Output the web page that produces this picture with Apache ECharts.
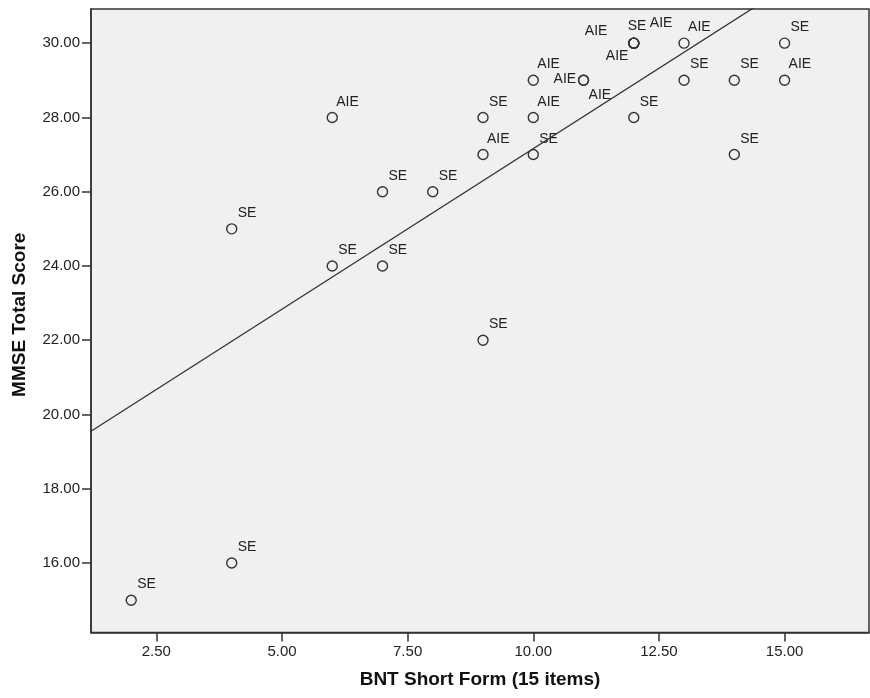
<!DOCTYPE html>
<html>
<head>
<meta charset="utf-8">
<script src="https://cdn.jsdelivr.net/npm/echarts@6/dist/echarts.min.js"></script>
<style>
  html, body { margin: 0; padding: 0; background: #fff; }
  #app { width: 870px; height: 698px; }
</style>
</head>
<body>
<div id="app"></div>
<script>
(function() {
  // BNT short form score per subject
  const bntScores = [2, 4, 4, 6, 6, 7, 7, 8, 9, 9, 9, 10, 10, 10, 11, 11, 12, 12, 12, 12, 12, 13, 13, 14, 14, 15, 15];
  // MMSE total score per subject
  const mmseScores = [15, 16, 25, 28, 24, 26, 24, 26, 28, 27, 22, 29, 28, 27, 29, 29, 30, 30, 30, 30, 28, 30, 29, 29, 27, 30, 29];
  // group label per subject
  const groups = ["SE", "SE", "SE", "AIE", "SE", "SE", "SE", "SE", "SE", "AIE", "SE", "AIE", "AIE", "SE", "AIE", "AIE",
    "AIE", "SE", "AIE", "AIE", "SE", "AIE", "SE", "SE", "SE", "SE", "AIE"];
  // y ticks / x ticks
  const yTicks = [16, 18, 20, 22, 24, 26, 28, 30];
  const xTicks = [2.5, 5, 7.5, 10, 12.5, 15];
  // linear fit line (intercept, slope)
  const fitIntercept = 18.51;
  const fitSlope = 0.865;

  const xMin = 1.2, xMax = 16.68;
  const yMin = 14.13, yMax = 30.92;

  const symSize = 10;
  // label shift from the point centre; stacked points get pushed apart like SPSS does
  const defaultShift = [16, -15];
  const labelShift = {
    14: [-18, 0],
    15: [17, 16],
    16: [-37, -11],
    17: [4, -16],
    18: [28, -19],
    19: [-16, 14]
  };

  const points = bntScores.map((x, i) => {
    const s = labelShift[i] || defaultShift;
    return {
      value: [x, mmseScores[i]],
      name: groups[i],
      label: { position: [symSize / 2 + s[0], symSize / 2 + s[1]] }
    };
  });

  const fitLine = [
    [xMin, fitIntercept + fitSlope * xMin],
    [xMax, fitIntercept + fitSlope * xMax]
  ];

  const fontFam = "Liberation Sans, Arial, sans-serif";
  const myChart = echarts.init(document.getElementById("app"));
  const option = {
    backgroundColor: "#ffffff",
    animation: false,
    grid: {
      left: 91,
      right: 1,
      top: 9,
      bottom: 65.5,
      show: true,
      backgroundColor: "#f0f0f0",
      borderColor: "#333",
      borderWidth: 1.5
    },
    xAxis: {
      type: "value",
      min: xMin,
      max: xMax,
      name: "BNT Short Form (15 items)",
      nameLocation: "middle",
      nameGap: 38,
      nameTextStyle: { fontFamily: fontFam, fontWeight: "bold", fontSize: 19, color: "#111" },
      splitLine: { show: false },
      axisLine: { lineStyle: { color: "#333", width: 1.5 } },
      axisTick: { length: 9, lineStyle: { color: "#333", width: 1.5 }, customValues: xTicks },
      axisLabel: {
        customValues: xTicks,
        margin: 12,
        fontFamily: fontFam,
        fontSize: 15,
        color: "#222",
        formatter: v => v.toFixed(2)
      }
    },
    yAxis: {
      type: "value",
      min: yMin,
      max: yMax,
      name: "MMSE Total Score",
      nameLocation: "middle",
      nameGap: 62,
      nameTextStyle: { fontFamily: fontFam, fontWeight: "bold", fontSize: 19, color: "#111", padding: [0, 0, 0, 12] },
      splitLine: { show: false },
      axisLine: { show: true, lineStyle: { color: "#333", width: 1.5 } },
      axisTick: { show: true, length: 9, lineStyle: { color: "#333", width: 1.5 }, customValues: yTicks },
      axisLabel: {
        customValues: yTicks,
        margin: 11,
        fontFamily: fontFam,
        fontSize: 15,
        color: "#222",
        formatter: v => v.toFixed(2)
      }
    },
    series: [
      {
        type: "line",
        data: fitLine,
        symbol: "none",
        silent: true,
        clip: true,
        lineStyle: { color: "#333", width: 1.3 }
      },
      {
        type: "scatter",
        data: points,
        symbol: "circle",
        symbolSize: symSize,
        clip: false,
        itemStyle: { color: "rgba(0,0,0,0)", borderColor: "#333", borderWidth: 1.4, opacity: 1 },
        label: {
          show: true,
          align: "center",
          verticalAlign: "middle",
          formatter: p => p.name,
          fontFamily: fontFam,
          fontSize: 14,
          color: "#222"
        },
        labelLayout: { hideOverlap: false }
      }
    ]
  };
  myChart.setOption(option);
})();
</script>
</body>
</html>
